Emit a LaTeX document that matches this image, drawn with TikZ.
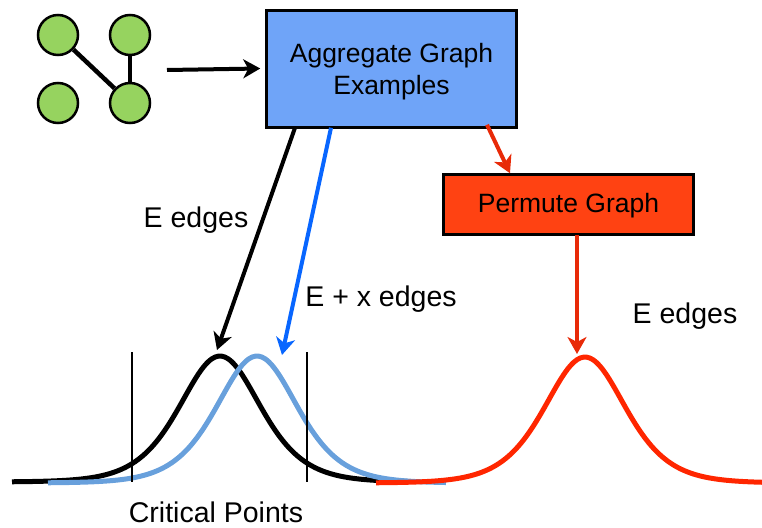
\documentclass[tikz,border=0pt]{standalone}
\usepackage{fontspec}
\setmainfont{Liberation Sans}
\usepackage{tikz}
\usetikzlibrary{positioning,calc,arrows.meta}
\usepackage{xcolor}

\definecolor{leafgreen}{RGB}{150,211,95}
\definecolor{boxblue}{RGB}{111,164,248}
\definecolor{boxred}{RGB}{255,66,18}
\definecolor{arrowblue}{RGB}{8,102,255}
\definecolor{curveblue}{RGB}{104,160,220}
\definecolor{curvered}{RGB}{255,38,0}
\definecolor{arrowred}{RGB}{232,42,8}

\begin{document}
\begin{tikzpicture}[x=1pt,y=-1pt,
  vert/.style={circle,draw=black,line width=2.5pt,fill=leafgreen,
    minimum size=40pt,inner sep=0pt},
  stage/.style={draw=black,line width=2.5pt,inner sep=0pt,align=center,
    font=\fontsize{26.5}{32}\selectfont},
  lbl/.style={anchor=base,inner sep=1pt,font=\fontsize{28.5}{34}\selectfont},
  arr/.style={line width=4pt,-{Stealth[length=17pt,width=19pt,inset=5pt]}},
  curve/.style={line width=5pt,smooth}]
\useasboundingbox (0,0) rectangle (762,527);

% Small example graph.
\node[vert] (g1) at (58,35) {};
\node[vert] (g2) at (130,35) {};
\node[vert] (g3) at (58,103) {};
\node[vert] (g4) at (130,103) {};
\draw[line width=4.5pt] (g1) -- (g4);
\draw[line width=4.5pt] (g2) -- (g4);

% Processing boxes.
\node[stage,fill=boxblue,minimum width=250pt,minimum height=117pt]
  (agg) at (391.5,69) {\rule{0pt}{24pt}Aggregate Graph\\Examples};
\node[stage,fill=boxred,minimum width=250pt,minimum height=60pt]
  (perm) at (568.5,204.5) {\rule{0pt}{22pt}Permute Graph};

\coordinate (src) at (167,70);
\draw[arr] (src) -- ([yshift=0.5pt,xshift=-5pt]agg.west);

% Distributions (logistic-shaped bumps).
\draw[curve,black] plot[domain=12:408,samples=120]
  (\x,{482-126*4/(exp(0.0184*(\x-220))+exp(-0.0184*(\x-220)))^2});
\draw[curve,curveblue] plot[domain=48:446,samples=120]
  (\x,{483-127*4/(exp(0.0184*(\x-257))+exp(-0.0184*(\x-257)))^2});
\draw[curve,curvered] plot[domain=376:762,samples=120]
  (\x,{483-126*4/(exp(0.0184*(\x-585))+exp(-0.0184*(\x-585)))^2});

% Critical points.
\coordinate (cpL) at (132,352);
\coordinate (cpR) at (307,352);
\draw[line width=1.5pt] (cpL) -- ++(0,130);
\draw[line width=1.5pt] (cpR) -- ++(0,130);

\coordinate (peakE) at (217,350);
\coordinate (peakX) at (282,355);
\coordinate (peakR) at (577,354);

\draw[arr,black] ([xshift=-96.5pt,yshift=1pt]agg.south) -- (peakE);
\draw[arr,arrowblue] ([xshift=-60.5pt,yshift=1pt]agg.south) -- (peakX);
\draw[arr,arrowred] ([xshift=95.5pt,yshift=4pt]agg.south)
  -- ([xshift=-58.5pt]perm.north);
\draw[arr,arrowred] ([xshift=8.5pt,yshift=1pt]perm.south) -- (peakR);

% Labels.
\node[lbl] (lE) at (196,227) {E edges};
\node[lbl] (lX) at (381,306) {E + x edges};
\node[lbl] (lR) at (685,323) {E edges};
\node[lbl] (lC) at (216,522) {Critical Points};

\end{tikzpicture}
\end{document}
